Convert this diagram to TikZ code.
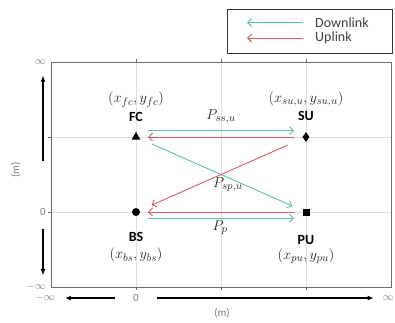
\documentclass[tikz,border=0pt]{standalone}
\usepackage{fontspec}
\newfontfamily\calfont{Carlito}
\usetikzlibrary{arrows.meta,positioning,shapes.geometric}
\definecolor{dlgreen}{RGB}{85,195,155}
\definecolor{ulred}{RGB}{215,90,95}
\definecolor{gridgray}{RGB}{222,222,222}
\definecolor{framegray}{RGB}{110,110,110}
\definecolor{tickgray}{RGB}{125,125,125}

\begin{document}
\begin{tikzpicture}[x=85pt,y=75pt,
  downlink/.style={dlgreen,line width=0.9pt,-{Straight Barb[length=4pt,width=8pt]}},
  uplink/.style={ulred,line width=0.9pt,-{Straight Barb[length=4pt,width=8pt]}},
  axisarrow/.style={black,line width=1.3pt,-{Latex[length=6pt,width=5pt]}},
  ticklbl/.style={tickgray,font=\calfont\fontsize{11}{13}\selectfont,inner sep=1pt},
  namelbl/.style={font=\calfont\bfseries\fontsize{14}{16}\selectfont,inner sep=1pt},
  poslbl/.style={font=\fontsize{15}{17}\selectfont,inner sep=1pt,text=black!85},
  plbl/.style={font=\fontsize{15}{17}\selectfont,inner sep=1pt,text=black!85},
  legendtxt/.style={text=black!75,font=\calfont\fontsize{14}{16}\selectfont,inner sep=0pt,anchor=west},
  trimarker/.style={regular polygon,regular polygon sides=3,fill=black,inner sep=0pt,minimum size=10pt},
  dotmarker/.style={circle,fill=black,inner sep=0pt,minimum size=8pt},
  boxmarker/.style={rectangle,fill=black,inner sep=0pt,minimum size=7pt},
  diamarker/.style={diamond,fill=black,inner sep=0pt,minimum width=7pt,minimum height=10pt}]
  \useasboundingbox (-1.6,-1.467) rectangle (3.047,2.827);

  % grid and frame
  \draw[gridgray,line width=0.8pt,step=1] (-1,-1) grid (3,2);
  \foreach \yy in {0,1} \draw[framegray,line width=0.6pt] (-1,\yy) -- ++(-3pt,0);
  \foreach \xx in {0,1,2} \draw[framegray,line width=0.6pt] (\xx,-1) -- ++(0,-3pt) (\xx,2) -- ++(0,3pt);
  \draw[framegray,line width=0.9pt] (-1,-1) rectangle (3,2);

  % axis labels
  \node[ticklbl,anchor=east] (yinf) at (-1.047,2) {$\infty$};
  \node[ticklbl,anchor=east] (yzero) at (-1.047,0) {0};
  \node[ticklbl,anchor=east] (yminf) at (-1.047,-1) {$-\infty$};
  \node[ticklbl] (xminf) at (-1.07,-1.147) {$-\infty$};
  \node[ticklbl] (xzero) at (0,-1.147) {0};
  \node[ticklbl,anchor=east] (xinf) at (3.047,-1.147) {$\infty$};
  \node[ticklbl,rotate=90] (ylbl) at (-1.412,0.56) {(m)};
  \node[ticklbl] (xlbl) at (1.012,-1.347) {(m)};
  \draw[axisarrow,shorten <=17pt,shorten >=9pt] (xzero.west) -- (xminf.east);
  \draw[axisarrow,shorten <=17pt,shorten >=8pt] (xzero.east) -- (xinf.west);
  \draw[axisarrow,shorten <=46pt,shorten >=10pt] (yzero.north) -- (yzero.north |- yinf.south);
  \draw[axisarrow,shorten <=12pt,shorten >=7pt] (yzero.south) -- (yzero.south |- yminf.north);

  % terminals
  \node[trimarker] (fc) at (0,1) {};
  \node[diamarker] (su) at (2,1) {};
  \node[dotmarker] (bs) at (0,0) {};
  \node[boxmarker] (pu) at (2,0) {};
  \node[namelbl,above=9pt of fc] (fcname) {FC};
  \node[poslbl,above=2pt of fcname] (fcpos) {$(x_{fc},y_{fc})$};
  \node[namelbl,above=10pt of su] (suname) {SU};
  \node[poslbl,above=2pt of suname] (supos) {$(x_{su,u},y_{su,u})$};
  \node[namelbl,below=15pt of bs] (bsname) {BS};
  \node[poslbl,below=4pt of bsname] (bspos) {$(x_{bs},y_{bs})$};
  \node[namelbl,below=18pt of pu] (puname) {PU};
  \node[poslbl,below=2pt of puname] (pupos) {$(x_{pu},y_{pu})$};

  % links
  \draw[downlink,shorten <=12pt,shorten >=12pt] ([yshift=6.5pt]fc.center) -- ([yshift=6.5pt]su.center);
  \draw[uplink,shorten <=12pt,shorten >=12pt] (su.center) -- (fc.center);
  \draw[downlink,shorten <=17pt,shorten >=15pt] (fc.center) -- (pu.center);
  \draw[uplink,shorten <=20pt,shorten >=17pt] (su.center) -- (bs.center);
  \draw[uplink,shorten <=12pt,shorten >=12pt] (pu.center) -- (bs.center);
  \draw[downlink,shorten <=12pt,shorten >=12pt] ([yshift=-6pt]bs.center) -- ([yshift=-6pt]pu.center);
  \node[plbl] (pss) at (1,1.267) {$P_{ss,u}$};
  \node[plbl] (psp) at (1.08,0.36) {$P_{sp,u}$};
  \node[plbl] (pp) at (0.99,-0.213) {$P_{p}$};

  % legend
  \node[draw=black!80,line width=0.8pt,fill=white,minimum width=165pt,minimum height=44pt] (legend) at (2.051,2.413) {};
  \node[legendtxt] (dltxt) at (2.106,2.52) {Downlink};
  \node[legendtxt] (ultxt) at (2.106,2.32) {Uplink};
  \draw[downlink] ([xshift=-12pt,yshift=0.5pt]dltxt.west) -- ++(-56pt,0);
  \draw[uplink] ([xshift=-12pt]ultxt.west) -- ++(-56pt,0);
\end{tikzpicture}
\end{document}
